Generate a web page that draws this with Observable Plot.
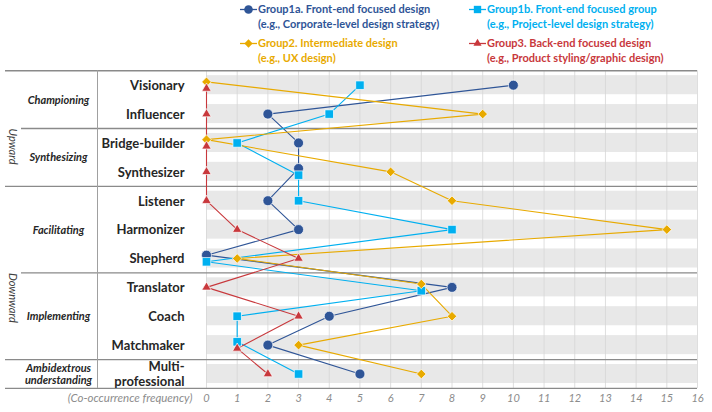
<!DOCTYPE html>
<html><head><meta charset="utf-8">
<script src="https://cdn.jsdelivr.net/npm/d3@7"></script>
<script src="https://cdn.jsdelivr.net/npm/@observablehq/plot@0.6"></script>
<style>
body{margin:0;background:#fff;font-family:Lato,"Open Sans",sans-serif;}
#wrap{width:712px;}
#legend{position:relative;width:712px;height:70px;}
.entry{position:absolute;font-size:11px;font-weight:bold;line-height:14.5px;white-space:nowrap;}
.entry svg{position:absolute;left:0;top:2px;}
.entry .t{margin-left:18px;display:block;}
#chart svg{display:block;}
</style></head><body>
<div id="wrap"><div id="legend"></div><div id="chart"></div></div>
<script>
// ---------- data ----------
const rows = ["Visionary","Influencer","Bridge-builder","Synthesizer","Listener","Harmonizer","Shepherd","Translator","Coach","Matchmaker","Multi-\nprofessional"];
const g1a = [10,2,3,3,2,3,0,8,4,2,5];
const g1b = [5,4,1,3,3,8,0,7,1,1,3];
const g2  = [0,9,0,6,8,15,1,7,8,3,7];
const g3  = [0,0,0,0,0,1,3,0,3,1,2];
const seriesNames = ["Group1a. Front-end focused design","Group1b. Front-end focused group","Group2. Intermediate design","Group3. Back-end focused design"];
const seriesNotes = ["(e.g., Corporate-level design strategy)","(e.g., Project-level design strategy)","(e.g., UX design)","(e.g., Product styling/graphic design)"];
const groupLabels = ["Championing","Synthesizing","Facilitating","Implementing","Ambidextrous\nunderstanding"];
const groupSizes = [2,2,3,3,1];
const directionLabels = ["Upward","Downward"];
const directionSizes = [4,6];
const xTicks = [0,1,2,3,4,5,6,7,8,9,10,11,12,13,14,15,16];
const axisTitle = "(Co-occurrence frequency)";

// ---------- styles ----------
const colors = ["#2F5597","#00B0F0","#E8AA00","#C8383C"];
const symbols = [d3.symbolCircle, d3.symbolSquare, d3.symbolDiamond2 || d3.symbolDiamond, d3.symbolTriangle];
const radii = [5, 4.8, 4.3, 3.5];
const dodgePriority = [2,0,1,3]; // which series sits higher when markers coincide
const values = [g1a,g1b,g2,g3];

// ---------- layout ----------
const W = 712, H = 342;
const xRange = [206, 697];
const yRange = [14.7, 303.5];
const px = d3.scaleLinear().domain([0,16]).range(xRange);

// ---------- points with dodge ----------
const points = [];
values.forEach((vals, k) => vals.forEach((v, i) => points.push({k, row: i, x: v, y: i})));
d3.group(points, d => d.row, d => d.x).forEach(m => m.forEach(arr => {
  if (arr.length > 1) {
    arr.sort((a, b) => dodgePriority.indexOf(a.k) - dodgePriority.indexOf(b.k));
    arr.forEach((p, j) => p.y = p.row + (j - (arr.length - 1) / 2) * 0.23);
  }
}));

// group mids & boundaries
const groups = [];
let s = 0;
groupLabels.forEach((g, j) => { groups.push({label: g, start: s, size: groupSizes[j], mid: s + (groupSizes[j]-1)/2}); s += groupSizes[j]; });
const dirs = [];
s = 0;
directionLabels.forEach((g, j) => { dirs.push({label: g, start: s, size: directionSizes[j], mid: s + (directionSizes[j]-1)/2}); s += directionSizes[j]; });
const fullBounds = [-0.5, ...dirs.map(d => d.start + d.size - 0.5), rows.length - 0.5];
const partialBounds = groups.map(g => g.start - 0.5).filter(b => !fullBounds.includes(b) && b > -0.5);

const marks = [
  Plot.rect(rows, {x1: 0, x2: 16, y1: (d,i) => i - 0.33, y2: (d,i) => i + 0.33, fill: "#e8e8e8"}),
  Plot.ruleX(xTicks, {x: d => d, y1: -0.5, y2: rows.length - 0.5, stroke: "#d6d6d6", strokeWidth: 0.8}),
  Plot.ruleY(fullBounds, {y: d => d, x1: px.invert(5), x2: 16, stroke: "#8a8a8a", strokeWidth: 1.3}),
  Plot.ruleY(partialBounds, {y: d => d, x1: px.invert(21), x2: 16, stroke: "#8a8a8a", strokeWidth: 1.3}),
  Plot.ruleX([px.invert(97)], {x: d => d, y1: -0.5, y2: rows.length - 0.5, stroke: "#a0a0a0", strokeWidth: 1}),
];
values.forEach((v, k) => {
  marks.push(Plot.line(points.filter(p => p.k === k), {x: "x", y: "y", stroke: colors[k], strokeWidth: 1.1}));
});
values.forEach((v, k) => {
  marks.push(Plot.dot(points.filter(p => p.k === k), {x: "x", y: "y", symbol: symbols[k], r: radii[k], fill: colors[k], stroke: "white", strokeWidth: 0.7}));
});
marks.push(
  Plot.text(rows, {y: (d,i) => i, text: d => d, frameAnchor: "left", dx: 184, textAnchor: "end", fontWeight: "bold", fontSize: 13, lineHeight: 1.15, fill: "#262626"}),
  Plot.text(groups, {y: "mid", text: "label", frameAnchor: "left", dx: 58, textAnchor: "middle", fontWeight: "bold", fontStyle: "italic", fontSize: 11, lineHeight: 1.13, fill: "#262626"}),
  Plot.text(dirs, {y: "mid", text: "label", frameAnchor: "left", dx: 12, rotate: 90, fontStyle: "italic", fontSize: 11, fill: "#404040"}),
  Plot.text(xTicks, {x: d => d, text: d => String(d), frameAnchor: "bottom", dy: 14.5, fontStyle: "italic", fontSize: 11, fill: "#8c8c8c"}),
  Plot.text([axisTitle], {text: d => d, frameAnchor: "bottom-left", dx: 192, dy: 14.5, textAnchor: "end", fontStyle: "italic", fontSize: 11.5, fill: "#8c8c8c"})
);

const chart = Plot.plot({
  width: W, height: H,
  marginLeft: 0, marginRight: 15, marginTop: 0, marginBottom: 25,
  style: {fontFamily: "Lato, 'Open Sans', sans-serif", background: "white"},
  x: {domain: [0,16], range: xRange, axis: null},
  y: {domain: [0, rows.length - 1], range: yRange, axis: null},
  marks
});
document.getElementById("chart").appendChild(chart);

// ---------- legend ----------
const legendPos = [[240,2],[469,2],[240,36],[469,36]];
const leg = d3.select("#legend");
seriesNames.forEach((name, k) => {
  const e = leg.append("div").attr("class","entry")
    .style("left", legendPos[k][0] + "px").style("top", legendPos[k][1] + "px").style("color", colors[k]);
  const sv = e.append("svg").attr("width", 18).attr("height", 11);
  sv.append("line").attr("x1",0).attr("x2",17).attr("y1",5.5).attr("y2",5.5).attr("stroke",colors[k]).attr("stroke-width",1.3);
  sv.append("path").attr("transform","translate(8.5,5.5)")
    .attr("d", d3.symbol(symbols[k], Math.PI * radii[k] * radii[k] * 0.75)()).attr("fill", colors[k]);
  e.append("span").attr("class","t").text(name);
  e.append("span").attr("class","t").text(seriesNotes[k]);
});
</script>
</body></html>
